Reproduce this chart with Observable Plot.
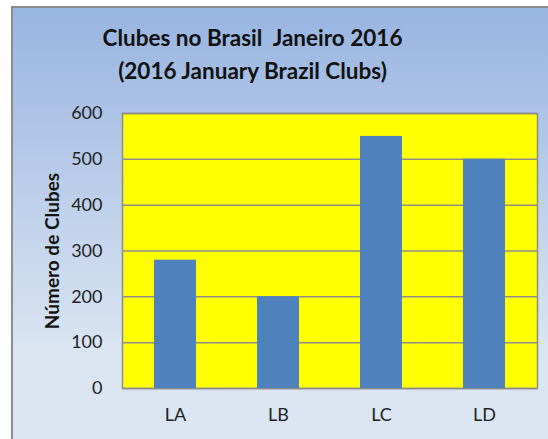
<!DOCTYPE html>
<html><head><meta charset="utf-8">
<script src="https://cdn.jsdelivr.net/npm/d3@7"></script>
<script src="https://cdn.jsdelivr.net/npm/@observablehq/plot@0.6"></script>
<style>
html,body{margin:0;padding:0;background:#fff;overflow:hidden;width:548px;height:439px;}
#bg{position:absolute;left:11px;top:6px;width:560px;height:460px;box-sizing:border-box;
  border-left:2px solid #8c8c8c;border-top:2px solid #8c8c8c;
  background:linear-gradient(to bottom,#98b4e1 0%,#dbe5f2 75%,#dce6f3 100%);}
#title{position:absolute;left:0;top:21px;width:505px;text-align:center;font-family:Lato,sans-serif;
  font-weight:bold;font-size:22.5px;line-height:33px;color:#111;}
#chart{position:absolute;left:0;top:95px;}
#chart svg{background:transparent;}
</style></head>
<body>
<div id="bg"></div>
<div id="title">Clubes no Brasil&nbsp; Janeiro 2016<br>(2016 January Brazil Clubs)</div>
<div id="chart"></div>
<script>
const categories = ["LA", "LB", "LC", "LD"];
const clubs = [280, 200, 550, 500];
const yTicks = [0, 100, 200, 300, 400, 500, 600];
const yLabel = "Número de Clubes";

const data = categories.map((c, i) => ({cat: c, value: clubs[i]}));

const chart = Plot.plot({
  width: 548,
  height: 344,
  marginTop: 18,
  marginBottom: 51,
  marginLeft: 122,
  marginRight: 11,
  style: {fontFamily: "Lato, sans-serif", fontSize: "18px", color: "#222", background: "transparent"},
  x: {domain: categories, paddingInner: 0.595, paddingOuter: 0.2975},
  y: {domain: [0, 600]},
  marks: [
    Plot.frame({fill: "#ffff00", stroke: "#8c8c8c", strokeWidth: 1.5}),
    Plot.gridY(yTicks, {stroke: "#8c8c8c", strokeOpacity: 1, strokeWidth: 1.5}),
    Plot.barY(data, {x: "cat", y: "value", fill: "#4f81bd"}),
    Plot.axisY(yTicks, {tickSize: 0, tickPadding: 20, label: null, fill: "#222"}),
    Plot.axisX({tickSize: 0, tickPadding: 20, label: null, fill: "#222"}),
    Plot.text([yLabel], {text: d => d, frameAnchor: "left", rotate: -90, dx: -70,
      fontSize: 19, fontWeight: "bold", fill: "#111", textAnchor: "middle", lineAnchor: "middle"})
  ]
});
document.getElementById("chart").appendChild(chart);
</script>
</body></html>
